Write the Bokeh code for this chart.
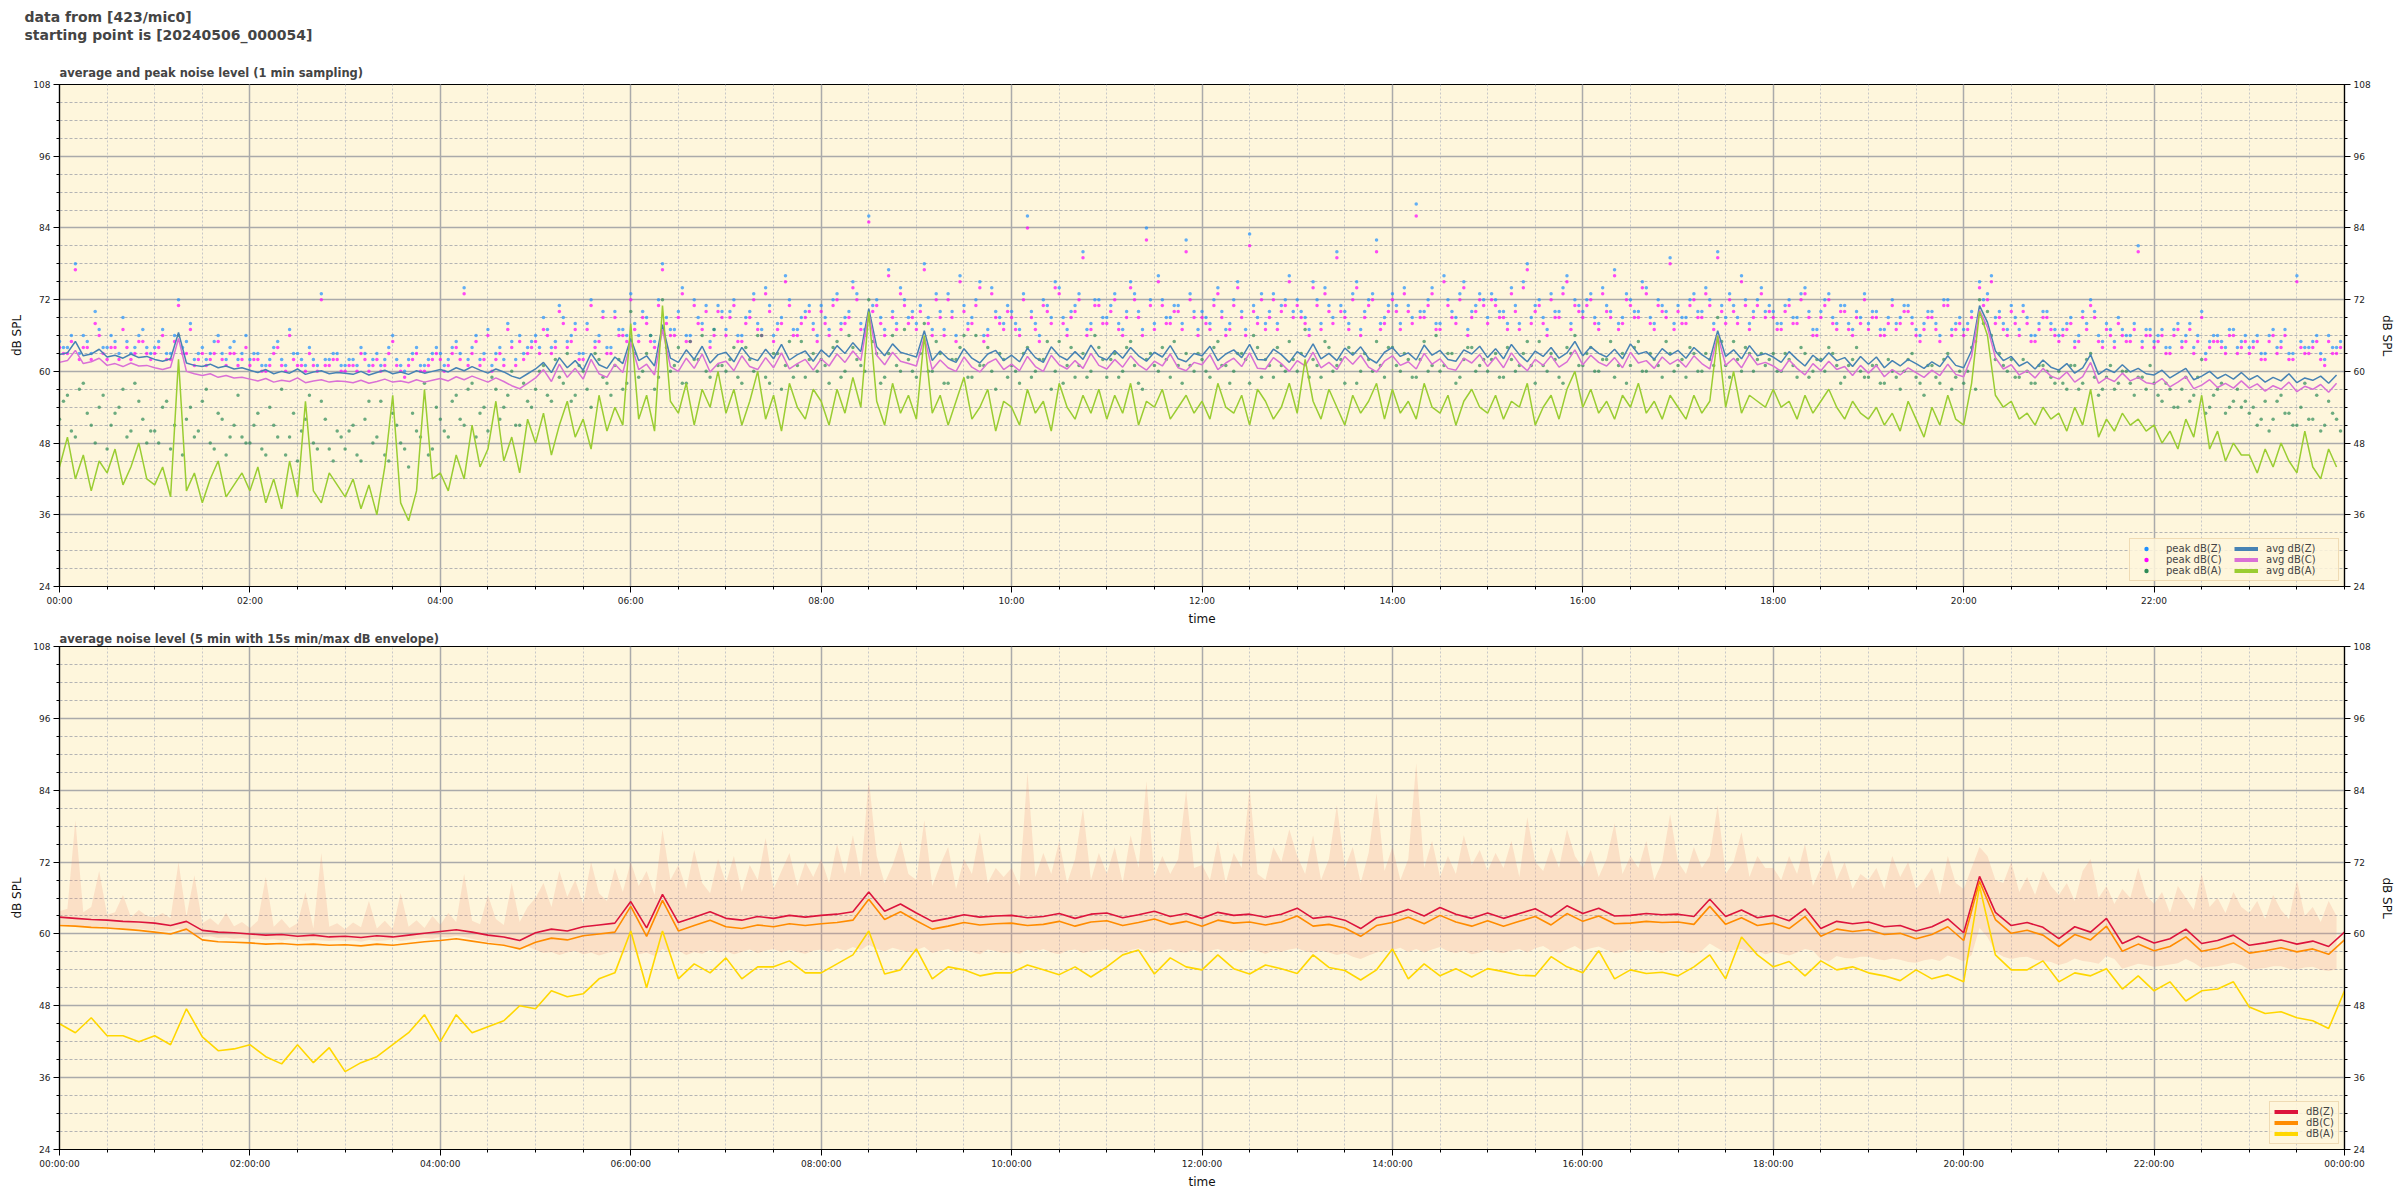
from bokeh.plotting import figure
from bokeh.models import Range1d, LinearAxis, FixedTicker, Legend, LegendItem, Title
from bokeh.layouts import column
from bokeh.embed import file_html
from bokeh.resources import INLINE

FONT = "DejaVu Sans"
BG = "#fef6dc"
NAN = float("nan")

# ---------------- top panel: 5-min samples (12 per hour) ----------------
avg_z = [
    62.8,63.1,65.0,62.6,62.9,63.7,62.4,62.7,62.2,62.9,62.3,62.5,
    62.0,61.7,62.1,66.5,61.4,61.0,60.8,61.2,60.6,60.9,60.4,60.6,
    60.2,59.8,60.3,59.6,60.0,59.7,60.4,59.5,59.9,60.1,59.6,59.8,
    59.7,59.5,60.0,59.4,59.8,60.2,59.6,59.9,59.5,60.1,59.7,60.0,
    60.3,59.9,60.6,60.1,60.8,60.2,59.7,60.4,59.9,59.2,58.8,59.6,
    60.4,61.5,59.8,62.3,60.6,61.8,60.2,63.0,61.1,60.5,62.4,61.3,
    65.5,61.8,62.6,60.9,67.8,62.2,61.5,63.6,62.0,64.2,61.4,62.8,
    63.2,61.6,64.0,62.3,61.8,63.7,62.1,64.5,61.9,62.8,63.4,61.7,
    63.6,62.4,64.3,63.0,64.8,63.3,70.5,64.1,62.6,64.6,63.2,62.8,
    62.4,66.8,61.8,63.4,62.1,61.5,63.8,62.2,61.4,62.9,63.5,61.8,
    62.7,61.6,63.9,62.3,61.5,64.1,62.6,61.9,63.3,62.0,64.4,62.5,
    61.9,63.5,62.2,64.0,62.6,61.7,63.2,62.4,64.3,62.1,61.6,63.0,
    62.6,64.2,61.8,62.9,63.6,62.3,64.5,62.0,61.9,63.7,62.8,61.5,
    63.3,62.4,64.6,62.1,63.0,61.8,63.9,62.7,64.1,62.2,61.4,63.2,
    64.0,62.5,63.1,61.9,64.4,62.7,63.5,62.0,61.7,63.6,62.9,64.2,
    62.3,63.8,62.1,64.5,62.8,61.6,63.4,62.5,64.0,62.2,63.1,65.0,
    62.6,64.1,63.0,62.4,63.7,62.1,64.6,62.9,63.3,62.0,63.8,62.7,
    63.5,62.2,64.0,62.8,61.9,66.8,62.5,63.6,62.1,64.3,62.6,63.0,
    62.4,61.5,63.3,62.0,60.9,62.7,61.6,63.1,61.8,62.3,60.8,62.5,
    61.2,62.4,60.6,61.8,60.9,62.0,61.3,60.5,61.6,60.8,62.6,61.0,
    60.6,63.5,71.0,68.2,63.4,61.8,62.5,60.9,61.6,60.4,61.9,60.7,
    60.2,61.3,59.7,60.6,62.8,59.5,60.4,59.8,61.1,59.9,60.5,59.6,
    59.4,60.2,58.9,59.7,60.5,58.6,59.2,60.0,58.8,59.5,58.7,59.8,
    58.6,59.3,58.2,59.0,58.4,59.6,58.1,58.9,58.5,59.2,58.0,59.4,
]
avg_c = [
    61.5,61.8,63.5,61.3,61.6,62.2,61.0,61.3,60.8,61.4,60.9,61.0,
    60.6,60.3,60.7,65.5,60.0,59.6,59.3,59.6,59.0,59.3,58.9,59.0,
    58.7,58.4,58.8,58.2,58.5,58.3,58.9,58.1,58.4,58.6,58.2,58.4,
    58.3,58.1,58.5,58.0,58.3,58.7,58.2,58.4,58.1,58.6,58.2,58.5,
    58.8,58.4,59.1,58.6,59.2,58.7,58.2,58.9,58.3,57.6,57.1,58.0,
    58.9,60.3,58.3,61.2,59.0,60.5,58.7,62.0,59.6,59.0,61.2,59.8,
    64.8,60.3,61.2,59.4,67.0,60.8,60.0,62.2,60.5,62.9,59.9,61.3,
    61.7,60.1,62.6,60.8,60.3,62.3,60.6,63.1,60.4,61.3,62.0,60.2,
    62.1,60.9,62.9,61.5,63.4,61.8,69.8,62.7,61.1,63.2,61.7,61.3,
    60.9,65.8,60.3,61.9,60.6,60.0,62.4,60.7,59.9,61.4,62.1,60.3,
    61.2,60.1,62.5,60.8,60.0,62.7,61.1,60.4,61.8,60.5,63.0,61.0,
    60.4,62.0,60.7,62.6,61.1,60.2,61.7,60.9,62.9,60.6,60.1,61.5,
    61.1,62.8,60.3,61.4,62.2,60.8,63.1,60.5,60.4,62.3,61.3,60.0,
    61.8,60.9,63.2,60.6,61.5,60.3,62.5,61.2,62.7,60.7,59.9,61.7,
    62.6,61.0,61.6,60.4,63.0,61.2,62.1,60.5,60.2,62.2,61.4,62.8,
    60.8,62.4,60.6,63.1,61.3,60.1,62.0,61.0,62.6,60.7,61.6,63.6,
    61.1,62.7,61.5,60.9,62.3,60.6,63.2,61.4,61.8,60.5,62.4,61.2,
    62.0,60.7,62.6,61.3,60.4,66.0,61.0,62.2,60.6,62.9,61.1,61.5,
    60.9,60.0,61.9,60.5,59.4,61.3,60.1,61.7,60.3,60.8,59.3,61.0,
    59.7,61.0,59.1,60.3,59.4,60.6,59.8,59.0,60.2,59.3,61.2,59.5,
    59.1,62.5,70.2,67.4,62.3,60.4,61.1,59.4,60.1,58.9,60.5,59.2,
    58.7,59.9,58.2,59.1,61.5,58.0,58.9,58.3,59.7,58.4,59.0,58.1,
    57.9,58.8,57.4,58.2,59.1,57.1,57.7,58.6,57.3,58.0,57.2,58.4,
    57.2,57.9,56.7,57.6,57.0,58.2,56.6,57.5,57.0,57.8,56.5,58.0,
]
avg_a = [
    44,49,42,46,40,45,43,47,41,44,48,42,
    41,44,39,62,40,43,38,42,45,39,41,43,
    40,44,38,42,37,45,39,55,40,38,43,41,
    39,42,37,41,36,44,56,38,35,40,57,42,
    43,40,46,42,51,44,47,55,45,49,43,52,
    48,53,46,51,55,49,52,47,56,50,54,51,
    68,52,56,50,71,55,53,58,51,57,54,60,
    53,57,51,55,60,52,56,50,58,54,52,57,
    55,51,57,53,59,54,70,55,51,58,53,56,
    52,66,53,56,51,55,59,52,54,57,50,55,
    54,51,57,53,55,50,58,54,52,56,53,57,
    52,56,53,58,51,55,54,57,52,54,56,53,
    55,52,58,54,53,56,51,57,55,52,54,58,
    53,62,55,52,57,54,51,56,53,55,58,52,
    57,53,55,52,58,54,53,56,51,55,57,54,
    53,56,52,55,54,58,51,54,56,52,57,60,
    54,57,53,55,52,56,54,58,53,55,52,56,
    54,52,56,53,55,66,54,60,53,56,55,54,
    57,54,55,52,56,53,55,57,54,52,55,53,
    52,54,51,53,50,55,52,49,54,51,56,52,
    51,58,70,66,56,54,55,52,53,51,54,52,
    53,50,54,51,57,49,52,50,53,51,52,50,
    51,48,50,47,52,49,56,47,50,45,48,46,
    46,43,47,44,48,45,43,50,44,42,47,44,
]
# peaks on the 5-min marks
peak_z = [
    65,64,78,66,63,67,64,65,69,63,66,64,
    64,67,63,72,65,62,64,63,66,62,65,63,
    62,63,61,64,62,67,63,61,62,73,62,63,
    61,62,64,61,63,62,66,61,62,64,61,63,
    63,62,65,74,64,62,67,63,62,65,66,64,
    66,69,64,71,65,68,63,72,66,64,70,67,
    73,66,69,65,78,67,70,66,72,68,65,71,
    67,72,66,70,68,74,66,69,72,67,70,68,
    71,67,73,69,75,68,86,72,67,70,74,69,
    68,78,67,70,73,66,71,69,75,67,70,68,
    70,67,86,68,72,69,74,67,71,80,68,72,
    69,73,67,75,70,84,68,72,69,71,82,70,
    70,68,74,67,72,70,83,69,68,73,71,76,
    72,69,75,68,71,80,70,73,67,72,82,69,
    73,68,71,88,70,74,68,72,69,75,70,73,
    69,72,70,74,68,78,71,69,73,70,76,72,
    70,73,68,71,77,69,72,70,74,68,71,79,
    71,69,73,70,72,80,69,71,76,68,72,70,
    70,68,72,69,74,67,70,73,68,71,67,69,
    68,70,67,72,69,71,67,68,70,66,72,68,
    67,70,75,73,69,68,71,67,69,66,70,68,
    66,68,65,70,72,66,68,65,67,66,81,67,
    65,67,64,68,66,64,70,65,66,64,67,65,
    64,66,63,67,65,63,76,64,65,63,66,64,
]
peak_c = [
    64,63,77,64,62,66,62,64,67,62,65,63,
    63,66,62,71,63,61,63,62,65,61,63,62,
    61,62,60,63,61,66,61,60,61,72,61,62,
    60,61,63,60,62,61,65,60,61,63,60,62,
    62,61,64,73,63,61,66,62,61,64,65,63,
    65,67,63,70,64,67,62,71,65,63,69,66,
    72,65,68,64,77,66,69,65,71,67,64,70,
    66,71,65,69,67,73,65,68,71,66,69,67,
    70,66,72,68,74,67,85,71,66,69,73,68,
    67,77,66,69,72,65,70,68,74,66,69,67,
    69,66,84,67,71,68,73,66,70,79,67,71,
    68,72,66,74,69,82,67,71,68,70,80,69,
    69,67,73,66,71,69,81,68,67,72,70,75,
    71,68,74,67,70,79,69,72,66,71,80,68,
    72,67,70,86,69,73,67,71,68,74,69,72,
    68,71,69,73,67,77,70,68,72,69,75,71,
    69,72,67,70,76,68,71,69,73,67,70,78,
    70,68,72,69,71,79,68,70,75,67,71,69,
    69,67,71,68,73,66,69,72,67,70,66,68,
    67,69,66,71,68,70,66,67,69,65,71,67,
    66,69,74,72,68,67,70,66,68,65,69,67,
    65,67,64,69,71,65,67,64,66,65,80,66,
    64,66,63,67,65,63,69,64,65,63,66,64,
    63,65,62,66,64,62,75,63,64,62,65,63,
]
peak_a = [
    52,56,49,58,51,54,47,53,57,50,55,48,
    50,54,47,66,52,49,55,48,53,46,51,49,
    48,53,46,51,57,49,45,52,48,55,47,50,
    47,51,45,55,49,46,53,48,44,50,58,47,
    52,49,56,51,58,53,50,57,54,60,51,55,
    57,61,55,59,63,56,60,54,62,58,61,57,
    70,59,63,57,72,60,64,58,62,66,59,61,
    60,64,58,62,66,59,63,57,65,61,59,63,
    62,58,65,60,64,61,72,63,59,66,60,62,
    59,68,60,63,58,62,66,59,61,64,57,62,
    61,58,64,60,62,57,65,61,59,63,60,64,
    59,63,60,65,58,62,61,64,59,61,63,60,
    62,59,65,61,60,63,58,64,62,59,61,65,
    60,67,62,59,64,61,58,63,60,62,65,59,
    64,60,62,59,65,61,60,63,58,62,64,61,
    60,63,59,62,61,65,58,61,63,59,64,66,
    61,64,60,62,59,63,61,65,60,62,59,63,
    61,59,63,60,62,69,61,65,60,63,62,61,
    63,60,62,59,63,60,62,64,61,59,62,60,
    59,61,58,60,57,62,59,56,61,58,63,59,
    58,64,72,70,62,61,62,59,60,58,61,59,
    60,57,61,58,63,56,59,57,60,58,59,57,
    58,55,57,54,59,56,62,54,57,53,55,54,
    53,51,55,52,56,53,51,58,52,50,55,52,
]
# peaks half-way between the 5-min marks (2.5 min later)
peak_z_mid = [
    64,66,63,65,70,64,66,63,65,64,67,63,
    65,63,66,64,68,63,62,65,63,64,62,66,
    63,61,62,65,61,63,62,64,61,62,63,61,
    62,61,63,62,61,64,62,60,63,61,62,64,
    61,64,63,62,66,63,61,64,68,62,63,65,
    64,67,65,69,66,63,68,65,70,64,67,66,
    68,70,66,72,69,67,74,66,69,71,67,70,
    70,66,69,73,67,71,68,76,67,69,71,66,
    69,72,68,70,73,67,71,69,77,68,72,70,
    71,69,73,67,70,76,68,72,66,74,69,71,
    68,73,70,66,71,75,69,70,73,67,72,69,
    71,68,70,73,67,72,76,69,71,68,73,67,
    69,72,70,68,75,67,71,73,70,68,72,70,
    70,67,72,74,69,71,68,75,70,73,68,71,
    71,74,69,70,72,68,76,70,73,67,71,72,
    73,70,68,71,75,69,72,67,70,74,68,71,
    72,69,74,70,68,73,70,75,69,72,70,68,
    69,72,70,74,68,71,73,69,72,70,74,71,
    68,71,69,73,70,67,72,69,71,68,70,73,
    70,67,69,68,71,69,66,70,68,72,67,69,
    68,66,72,76,70,67,69,71,66,68,70,67,
    67,69,66,68,70,65,67,69,66,68,65,67,
    66,64,67,65,68,66,63,66,65,67,64,66,
    65,63,66,64,67,63,65,64,66,62,64,65,
]
peak_c_mid = [
    63,65,62,64,68,63,64,62,64,63,65,62,
    64,62,65,63,67,62,61,63,62,63,61,64,
    62,60,61,64,60,62,61,63,60,61,62,60,
    61,60,62,61,60,63,61,59,62,60,61,63,
    60,63,62,61,65,62,60,63,67,61,62,64,
    63,66,64,68,65,62,67,64,69,63,66,65,
    67,69,65,71,68,66,73,65,68,70,66,69,
    69,65,68,72,66,70,67,75,66,68,70,65,
    68,71,67,69,72,66,70,68,76,67,71,69,
    70,68,72,66,69,75,67,71,65,73,68,70,
    67,72,69,65,70,74,68,69,72,66,71,68,
    70,67,69,72,66,71,75,68,70,67,72,66,
    68,71,69,67,74,66,70,72,69,67,71,69,
    69,66,71,73,68,70,67,74,69,72,67,70,
    70,73,68,69,71,67,75,69,72,66,70,71,
    72,69,67,70,74,68,71,66,69,73,67,70,
    71,68,73,69,67,72,69,74,68,71,69,67,
    68,71,69,73,67,70,72,68,71,69,73,70,
    67,70,68,72,69,66,71,68,70,67,69,72,
    69,66,68,67,70,68,65,69,67,71,66,68,
    67,65,71,75,69,66,68,70,65,67,69,66,
    66,68,65,67,69,64,66,68,65,67,64,66,
    65,63,66,64,67,65,62,65,64,66,63,65,
    64,62,65,63,66,62,64,63,65,61,63,64,
]
peak_a_mid = [
    55,50,57,53,48,56,51,54,49,58,52,50,
    48,55,51,46,54,50,57,47,52,49,56,48,
    51,47,54,49,46,53,50,56,47,52,45,49,
    50,46,52,48,55,45,51,47,53,49,46,54,
    50,55,52,57,49,54,59,52,56,51,58,54,
    60,56,62,58,55,61,57,63,59,56,62,58,
    63,60,66,59,64,61,58,65,62,60,67,61,
    62,59,64,60,66,58,63,61,59,65,62,60,
    61,64,59,66,62,60,65,58,63,61,67,60,
    63,60,65,58,62,64,59,66,61,60,63,59,
    60,63,59,62,65,60,58,64,61,59,66,62,
    62,59,64,61,57,63,60,62,65,58,61,63,
    60,64,61,58,63,62,66,59,61,64,60,62,
    63,59,61,65,60,62,64,58,63,60,61,64,
    61,63,59,62,60,66,61,63,59,64,60,62,
    62,59,64,60,63,61,65,60,62,58,63,61,
    63,60,62,65,61,58,64,60,63,61,65,60,
    62,64,60,63,61,65,59,62,64,60,63,62,
    60,63,61,64,59,62,60,63,58,61,64,59,
    61,58,62,59,60,63,58,61,59,62,57,60,
    60,57,68,66,63,60,59,62,58,61,60,58,
    58,61,57,62,59,57,61,58,60,56,59,61,
    56,58,54,57,55,59,53,56,58,54,57,55,
    54,52,50,55,53,51,54,52,56,51,53,50,
]

# ---------------- bottom panel: 5-min averages (6 per hour + end) ----------------
db_z = [
    62.8,62.6,62.4,62.3,62.1,62.0,
    61.8,61.4,62.1,60.6,60.3,60.2,
    60.0,59.8,59.9,59.6,59.8,59.5,
    59.6,59.4,59.7,59.5,59.8,60.1,
    60.4,60.7,60.3,59.8,59.5,58.9,
    60.2,60.8,60.5,61.2,61.5,61.8,
    65.4,61.0,66.6,61.9,62.8,63.7,
    62.6,62.3,62.9,62.6,63.1,62.8,
    63.1,63.3,63.7,67.0,63.8,65.0,
    63.5,62.1,62.6,63.2,62.8,63.0,
    63.1,62.7,62.9,63.4,62.6,63.3,
    63.5,62.7,63.2,63.8,62.9,63.4,
    62.6,63.6,63.1,63.3,62.8,63.3,
    64.3,62.6,62.9,62.3,60.9,62.7,
    63.2,64.1,63.0,64.4,63.3,62.6,
    63.5,62.6,63.4,64.2,62.8,64.7,
    63.4,64.3,63.0,63.1,63.4,63.2,
    63.3,62.9,65.8,62.9,64.0,62.7,
    63.1,62.2,64.2,60.9,62.1,61.7,
    62.0,61.2,61.4,60.5,61.2,62.5,
    60.2,69.6,63.6,61.4,61.9,61.1,
    59.2,61.2,60.3,62.6,58.4,59.6,
    58.5,59.2,60.8,58.4,58.9,59.8,
    58.1,58.5,59.0,58.3,58.8,57.9,
    60.3,
]
db_c = [
    61.4,61.3,61.1,61.0,60.8,60.6,
    60.3,60.0,60.8,59.0,58.7,58.6,
    58.5,58.3,58.4,58.2,58.3,58.1,
    58.2,58.0,58.3,58.1,58.4,58.7,
    58.9,59.2,58.8,58.4,58.1,57.5,
    58.6,59.3,59.0,59.7,60.0,60.3,
    64.6,59.6,65.6,60.5,61.4,62.3,
    61.2,60.9,61.5,61.2,61.7,61.4,
    61.7,61.9,62.3,65.8,62.4,63.7,
    62.2,60.8,61.3,61.9,61.5,61.7,
    61.8,61.4,61.6,62.1,61.3,62.0,
    62.2,61.4,61.9,62.5,61.6,62.1,
    61.3,62.3,61.8,62.0,61.5,62.0,
    63.0,61.3,61.6,61.0,59.6,61.4,
    61.9,62.8,61.7,63.1,62.0,61.3,
    62.2,61.3,62.1,62.9,61.5,63.4,
    62.1,63.0,61.7,61.8,62.1,61.9,
    62.0,61.6,64.6,61.6,62.7,61.4,
    61.8,60.9,62.9,59.6,60.8,60.4,
    60.7,59.9,60.1,59.2,59.9,61.2,
    58.9,68.8,62.4,60.1,60.6,59.8,
    57.9,59.9,59.0,61.3,57.1,58.3,
    57.2,57.9,59.5,57.1,57.6,58.5,
    56.8,57.2,57.7,57.0,57.5,56.6,
    59.0,
]
db_a = [
    45.0,43.5,46.0,43.0,43.0,42.0,
    43.0,41.5,47.5,42.8,40.5,40.8,
    41.5,39.5,38.3,41.5,38.5,41.0,
    37.0,38.5,39.5,41.5,43.5,46.5,
    42.0,46.5,43.5,44.5,45.5,48.0,
    47.5,50.5,49.5,50.0,52.5,53.5,
    60.5,51.0,60.5,52.5,55.0,53.5,
    56.0,52.5,54.5,54.5,55.5,53.5,
    53.5,55.0,56.5,60.5,53.3,54.0,
    57.5,52.5,54.5,54.0,53.0,53.5,
    53.5,54.8,54.0,53.2,54.5,52.8,
    54.5,56.5,57.3,53.3,56.0,54.5,
    54.0,56.5,54.2,53.3,54.8,54.2,
    53.4,56.5,54.4,53.9,52.3,54.0,
    57.5,52.5,55.0,53.0,54.2,52.8,
    54.2,53.7,53.1,53.0,56.2,54.5,
    53.5,57.2,52.5,54.0,53.4,53.6,
    53.0,54.5,56.5,52.5,59.5,56.5,
    54.5,55.4,53.0,55.5,54.0,54.5,
    53.5,53.0,52.2,54.0,52.5,53.2,
    52.0,68.0,56.5,54.0,54.0,55.5,
    52.0,53.5,53.0,54.2,50.8,53.0,
    50.5,52.0,48.8,50.5,50.8,52.0,
    47.8,46.7,47.0,46.0,45.5,44.2,
    50.5,
]
# 15 s min/max envelope (12 per hour)
env_min = [
    61.6,61.5,61.4,61.3,61.2,61.3,61.0,61.1,60.9,60.8,60.9,60.7,
    60.6,60.4,60.5,60.9,60.1,59.7,59.5,59.6,59.3,59.4,59.2,59.3,
    59.1,59.2,59.0,59.1,58.9,59.1,59.0,58.8,59.0,58.9,58.8,58.9,
    58.8,58.9,58.7,59.0,58.8,58.9,59.1,58.8,59.0,59.2,59.3,59.2,
    59.5,59.4,59.7,59.5,59.2,58.9,58.6,58.5,58.2,57.8,57.4,57.9,
    57.3,56.8,57.0,56.5,56.9,57.2,56.6,56.9,56.4,56.8,57.1,56.7,
    57.4,56.6,56.9,56.3,57.5,56.8,57.2,56.5,57.0,56.7,57.3,56.9,
    57.1,56.6,57.0,57.4,56.8,57.2,57.5,56.9,57.3,57.0,56.7,57.2,
    57.4,57.0,57.6,57.2,57.8,57.3,58.2,57.5,57.1,57.7,57.3,57.0,
    57.3,57.8,56.8,57.2,57.5,56.9,57.3,57.0,56.6,57.4,57.1,56.8,
    57.0,56.7,57.3,57.0,57.5,56.9,56.6,57.2,57.4,56.8,57.1,57.3,
    57.4,57.0,56.8,57.3,57.6,57.1,56.8,57.2,57.5,57.0,56.9,57.3,
    56.8,57.2,57.5,57.0,57.3,56.9,57.4,57.1,56.7,57.2,57.0,57.4,
    57.6,57.1,56.8,57.2,56.9,56.5,56.8,56.2,55.8,56.4,56.9,57.2,
    57.3,57.7,57.0,57.5,56.9,57.4,57.8,57.1,56.8,57.2,56.6,56.9,
    57.4,57.0,56.8,57.2,57.5,56.9,57.6,58.0,57.2,56.8,57.4,58.0,
    57.2,57.6,57.9,57.3,56.8,57.0,57.4,56.9,57.3,57.1,56.8,57.2,
    57.3,57.0,56.8,57.2,58.4,57.6,56.9,57.3,57.5,56.9,57.1,56.6,
    57.0,56.7,56.4,56.9,57.5,57.2,55.8,55.4,56.3,56.0,55.9,56.2,
    56.2,55.8,55.6,55.9,55.7,55.3,55.2,55.6,55.8,55.5,56.4,56.0,
    55.4,56.5,61.0,59.5,57.0,56.2,55.8,56.1,56.2,55.7,55.5,55.3,
    54.8,55.2,55.9,55.5,55.3,55.0,56.3,55.8,54.2,54.6,55.0,54.8,
    54.5,54.7,54.9,55.1,55.8,55.2,54.3,54.5,54.6,54.9,55.2,54.8,
    54.0,54.2,54.3,54.6,54.6,54.2,54.1,54.4,54.5,54.0,53.8,54.1,
]
env_max = [
    63.8,64.2,79.0,63.6,64.5,70.5,63.2,63.6,66.5,62.8,64.0,63.0,
    62.8,63.5,62.6,72.0,62.9,69.8,61.8,62.6,61.5,63.5,61.3,62.0,
    61.0,62.2,69.5,61.2,62.5,61.0,61.8,67.0,60.9,73.5,61.2,61.8,
    60.8,61.9,61.1,65.5,60.9,62.2,60.8,66.8,61.2,62.3,61.0,63.0,
    61.5,63.5,62.0,70.0,62.2,61.6,66.5,62.5,61.5,68.5,62.0,64.5,
    66.0,68.5,64.5,70.5,66.2,69.0,65.0,72.0,66.8,65.5,71.0,67.0,
    72.0,68.0,70.5,66.5,77.5,69.0,71.5,67.5,74.0,68.5,66.8,72.5,
    68.5,73.0,67.0,71.5,69.0,76.0,67.5,70.5,73.5,68.0,72.0,69.5,
    72.5,68.5,75.0,70.0,76.5,69.5,86.0,73.0,68.5,71.5,75.5,70.0,
    69.0,79.0,68.0,71.5,74.5,67.5,72.5,70.0,77.0,68.5,71.0,69.5,
    71.0,68.0,87.0,69.5,73.5,70.0,75.5,68.5,72.5,81.0,69.0,73.5,
    70.0,74.5,68.5,76.5,71.0,85.5,69.5,73.0,70.0,72.5,84.0,71.0,
    71.5,69.0,75.5,68.5,73.5,71.0,84.5,70.0,69.0,74.5,72.0,77.5,
    73.0,70.0,76.5,69.0,72.5,81.5,71.0,74.5,68.5,73.5,83.5,70.5,
    74.5,69.0,72.5,88.5,71.0,75.5,69.5,73.0,70.0,76.5,71.5,74.0,
    70.5,73.5,71.0,75.5,69.5,79.5,72.0,70.5,74.5,71.0,77.5,73.0,
    71.0,74.0,69.5,72.5,78.5,70.0,73.0,71.0,75.5,69.0,72.0,80.0,
    72.0,70.0,74.5,71.0,73.0,81.5,70.0,72.0,77.0,69.5,73.0,71.0,
    71.0,69.0,73.0,70.0,75.0,68.0,71.0,74.0,69.0,72.0,67.5,70.0,
    69.0,71.0,67.5,73.0,69.5,72.0,67.5,69.0,71.0,66.5,73.0,68.5,
    67.5,71.0,74.5,73.0,69.0,68.5,72.0,67.0,69.5,66.5,70.5,68.0,
    66.5,68.5,65.5,70.5,72.5,66.0,68.0,65.0,67.5,66.0,71.0,66.5,
    65.0,67.0,63.5,68.0,66.0,64.0,70.0,64.5,66.0,63.5,67.0,64.5,
    63.5,65.5,62.5,66.5,64.0,62.5,69.0,63.0,64.5,62.0,65.5,63.0,
]

y_ticks = list(range(24, 109, 12))
y_minor = list(range(24, 109, 3))
x_ticks_top = list(range(0, 23, 2))
x_ticks_bot = list(range(0, 25, 2))
x_minor = [i * 0.5 for i in range(49)]
top_labels = {h: "%02d:00" % h for h in x_ticks_top}
bot_labels = {h: "%02d:00:00" % (h % 24) for h in x_ticks_bot}


def hours(n, per_hour, shift=0.0):
    return [i / per_hour + shift for i in range(n)]


def style_axis(ax, size="9px"):
    ax.major_label_text_font = FONT
    ax.major_label_text_font_size = size
    ax.major_label_text_color = "#222222"
    ax.axis_label_text_font = FONT
    ax.axis_label_text_font_size = "12px"
    ax.axis_label_text_font_style = "normal"
    ax.axis_label_text_color = "#111111"
    ax.axis_line_color = "black"
    ax.axis_line_width = 1.2
    ax.major_tick_in = 0
    ax.major_tick_out = 6
    ax.minor_tick_in = 0
    ax.minor_tick_out = 3
    ax.major_tick_line_color = "black"
    ax.minor_tick_line_color = "black"
    ax.major_label_standoff = 3


def make_panel(height, top_border, bottom_border, xticks, xlabels, title):
    p = figure(width=2400, height=height, output_backend="svg", toolbar_location=None,
               x_range=Range1d(0, 24), y_range=Range1d(24, 108), title=title,
               min_border_left=59, min_border_right=56,
               min_border_top=top_border, min_border_bottom=bottom_border,
               x_axis_label="time", y_axis_label="dB SPL")
    p.background_fill_color = BG
    p.border_fill_color = "white"
    p.outline_line_color = "black"
    p.outline_line_width = 1.2
    xt = FixedTicker(ticks=xticks, minor_ticks=x_minor)
    yt = FixedTicker(ticks=y_ticks, minor_ticks=y_minor)
    p.xaxis.ticker = xt
    p.yaxis.ticker = yt
    p.xgrid.ticker = xt
    p.ygrid.ticker = yt
    p.xaxis.major_label_overrides = xlabels
    p.yaxis.axis_label_standoff = 6
    p.xaxis.axis_label_standoff = 3
    right = LinearAxis(ticker=yt, axis_label="dB SPL", axis_label_standoff=6)
    p.add_layout(right, "right")
    for ax in p.xaxis + p.yaxis + [right]:
        style_axis(ax)
    for g in (p.xgrid, p.ygrid):
        g.grid_line_color = "#aaaaaa"
        g.grid_line_width = 1.5
    p.ygrid.minor_grid_line_color = "#b4b4b4"
    p.ygrid.minor_grid_line_dash = "3 2"
    p.ygrid.minor_grid_line_width = 1
    p.xgrid.minor_grid_line_color = "#c8c8c8"
    p.xgrid.minor_grid_line_dash = "2 2"
    p.xgrid.minor_grid_line_width = 1
    return p


def style_legend(lg):
    lg.location = "bottom_right"
    lg.margin = 5
    lg.padding = 4
    lg.spacing = 0
    lg.label_text_font = FONT
    lg.label_text_font_size = "10px"
    lg.label_height = 11
    lg.glyph_height = 11
    lg.glyph_width = 24
    lg.label_standoff = 8
    lg.background_fill_color = BG
    lg.background_fill_alpha = 0.85
    lg.border_line_color = "#dfc08c"
    lg.border_line_width = 1.2


def header(text, size, offset=0, standoff=0):
    return Title(text=text, text_font=FONT, text_font_size=size, text_font_style="bold",
                 align="left", offset=offset, standoff=standoff)


# ---------------- top panel ----------------
p1 = make_panel(628, 84, 40, x_ticks_top, top_labels, None)
p1.add_layout(header("average and peak noise level (1 min sampling)", "11.5px", standoff=9), "above")
p1.add_layout(header(" ", "13px", offset=-35), "above")   # blank spacer line
p1.add_layout(header("starting point is [20240506_000054]", "14px", offset=-35), "above")
p1.add_layout(header("data from [423/mic0]", "14px", offset=-35), "above")

for xs, ys, col in ((hours(len(peak_z), 12), peak_z, "#1e90ff"),
                    (hours(len(peak_z_mid), 12, 1 / 24), peak_z_mid, "#1e90ff"),
                    (hours(len(peak_c), 12), peak_c, "#ff00ff"),
                    (hours(len(peak_c_mid), 12, 1 / 24), peak_c_mid, "#ff00ff"),
                    (hours(len(peak_a), 12), peak_a, "#2e8b57"),
                    (hours(len(peak_a_mid), 12, 1 / 24), peak_a_mid, "#2e8b57")):
    p1.scatter(xs, ys, marker="circle", size=3.5, color=col, alpha=0.7, line_width=0)
p1.line(hours(len(avg_z), 12), avg_z, color="#4682b4", line_width=1.5)
p1.line(hours(len(avg_c), 12), avg_c, color="#da70d6", line_width=1.5)
p1.line(hours(len(avg_a), 12), avg_a, color="#9acd32", line_width=1.5)

# legend proxies (a single NaN point: nothing is drawn in the plot area)
lg_pz = p1.scatter([NAN], [NAN], marker="circle", size=6, color="#1e90ff", line_width=0)
lg_pc = p1.scatter([NAN], [NAN], marker="circle", size=6, color="#ff00ff", line_width=0)
lg_pa = p1.scatter([NAN], [NAN], marker="circle", size=6, color="#2e8b57", line_width=0)
lg_az = p1.line([NAN], [NAN], color="#4682b4", line_width=4)
lg_ac = p1.line([NAN], [NAN], color="#da70d6", line_width=4)
lg_aa = p1.line([NAN], [NAN], color="#9acd32", line_width=4)
leg1 = Legend(items=[
    LegendItem(label="peak dB(Z)", renderers=[lg_pz]),
    LegendItem(label="peak dB(C)", renderers=[lg_pc]),
    LegendItem(label="peak dB(A)", renderers=[lg_pa]),
    LegendItem(label="avg dB(Z)", renderers=[lg_az]),
    LegendItem(label="avg dB(C)", renderers=[lg_ac]),
    LegendItem(label="avg dB(A)", renderers=[lg_aa]),
], nrows=3)
style_legend(leg1)
leg1.label_width = 68
p1.add_layout(leg1)

# ---------------- bottom panel ----------------
p2 = make_panel(564, 17, 43, x_ticks_bot, bot_labels,
                "average noise level (5 min with 15s min/max dB envelope)")
p2.title.text_font = FONT
p2.title.text_font_size = "11.5px"
p2.title.text_font_style = "bold"
p2.title.align = "left"
p2.title.standoff = 2

p2.varea(x=hours(len(env_max), 12), y1=env_min, y2=env_max, fill_color="#f08a6c", fill_alpha=0.2)
p2.line(hours(len(db_z), 6), db_z, color="#dc143c", line_width=1.6)
p2.line(hours(len(db_c), 6), db_c, color="#ff8c00", line_width=1.6)
p2.line(hours(len(db_a), 6), db_a, color="#ffd700", line_width=1.6)

lg_z = p2.line([NAN], [NAN], color="#dc143c", line_width=4)
lg_c = p2.line([NAN], [NAN], color="#ff8c00", line_width=4)
lg_a = p2.line([NAN], [NAN], color="#ffd700", line_width=4)
leg2 = Legend(items=[
    LegendItem(label="dB(Z)", renderers=[lg_z]),
    LegendItem(label="dB(C)", renderers=[lg_c]),
    LegendItem(label="dB(A)", renderers=[lg_a]),
])
style_legend(leg2)
p2.add_layout(leg2)

layout = column(p1, p2, spacing=0)
open("out.html", "w").write(file_html(layout, INLINE))
